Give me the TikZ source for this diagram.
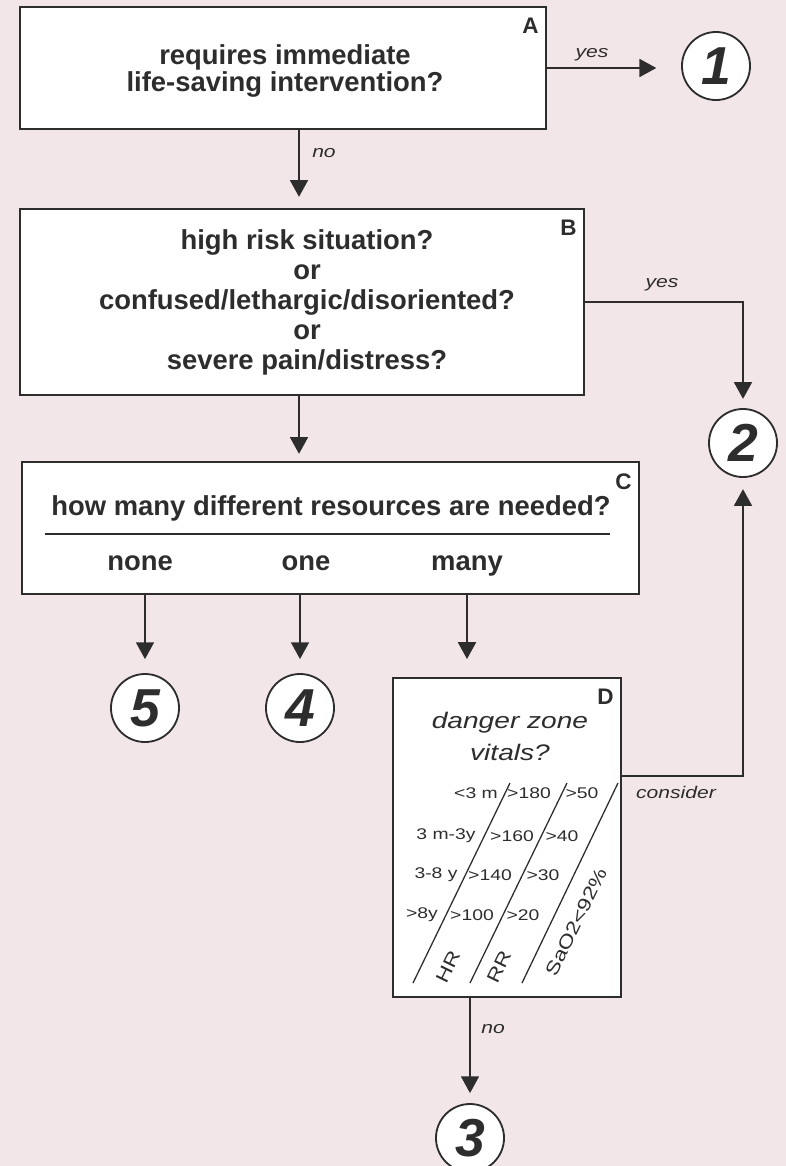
\documentclass[tikz,border=0pt]{standalone}
\usepackage{fontspec}
\setmainfont{Liberation Sans}
\newfontfamily\widefont{Liberation Sans}[FakeStretch=1.25]
\usetikzlibrary{arrows.meta,calc}
\definecolor{bgpink}{RGB}{243,230,233}
\definecolor{ink}{RGB}{45,45,45}

\begin{document}
\begin{tikzpicture}[x=0.025cm, y=-0.025cm,
      box/.style     = {draw=ink, line width=1.3pt, fill=white, inner sep=0pt},
      question/.style= {text=ink, align=center, inner sep=0pt,
                        font=\bfseries\fontsize{19.5}{21.3}\selectfont},
      tag/.style     = {text=ink, anchor=north east, inner sep=0pt,
                        xshift=-0.2cm, yshift=-0.3cm,
                        font=\bfseries\fontsize{16}{16}\selectfont},
      outcome/.style = {circle, draw=ink, line width=1.3pt, fill=white,
                        minimum size=1.7cm, inner sep=0pt, text=ink,
                        font=\bfseries\itshape\fontsize{38}{38}\selectfont},
      flow/.style    = {draw=ink, line width=1.3pt,
                        -{Triangle[width=0.45cm,length=0.42cm]}, shorten >=0.3cm},
      answer/.style  = {text=ink, inner sep=0pt,
                        font=\widefont\itshape\fontsize{12}{12}\selectfont},
      vital/.style   = {text=ink, inner sep=0pt,
                        font=\widefont\fontsize{11}{11}\selectfont},
      axis/.style    = {text=ink, inner sep=0pt, rotate=64,
                        font=\widefont\fontsize{13}{13}\selectfont},
      slant/.style   = {draw=ink, line width=0.9pt}
]
   \useasboundingbox[fill=bgpink] (0,0) rectangle (786,1166);
   \coordinate (spine) at (299,0);

   % box A
   \node[box, minimum width=13.15cm, minimum height=3.05cm] (A) at (283,68) {};
   \node[tag] at (A.north east) {A};
   \node[question, font=\bfseries\fontsize{19.5}{19.6}\selectfont] (Aq) at (285,71)
      {requires immediate\\life-saving intervention?};
   \node[outcome] (o1) at (716,66) {1};
   \draw[flow, shorten >=0.62cm] (A.east) -- (A.east -| o1.west);
   \node[answer] at (592,55) {yes};

   % box B
   \node[box, minimum width=14.1cm, minimum height=4.65cm] (B) at (302,302) {};
   \node[tag] at (B.north east) {B};
   \node[question] (Bq) at (307,302)
      {high risk situation?\\or\\confused/lethargic/disoriented?\\or\\severe pain/distress?};
   \draw[flow, shorten >=0.28cm] (A.south -| spine) -- (B.north -| spine);
   \node[answer] at (324,153) {no};

   \node[outcome] (o2) at (743,443) {2};
   \draw[flow, shorten >=0.23cm] (B.east) -| (o2);
   \node[answer] at (662,285) {yes};

   % box C
   \node[box, minimum width=15.425cm, minimum height=3.3cm] (C) at (330.5,528) {};
   \node[tag] at (C.north east) {C};
   \node[question] (Cq) at (331,508) {how many different resources are needed?};
   \draw[draw=ink, line width=1.3pt] (45,534) -- (610,534);
   \node[question, anchor=base] (none) at (140,570) {none};
   \node[question, anchor=base] (one)  at (306,570) {one};
   \node[question, anchor=base] (many) at (467,570) {many};
   \draw[flow, shorten >=0.18cm] (B.south -| spine) -- (C.north -| spine);

   \node[outcome] (o5) at (145,708) {5};
   \node[outcome] (o4) at (300,708) {4};
   \draw[flow, shorten >=0.35cm] (o5 |- C.south) -- (o5);
   \draw[flow, shorten >=0.35cm] (o4 |- C.south) -- (o4);

   % box D
   \node[box, minimum width=5.7cm, minimum height=7.975cm] (D) at (507,837.5) {};
   \node[tag] at (D.north east) {D};
   \draw[flow, shorten >=0.45cm] (many |- C.south) -- (many |- D.north);
   \node[question, font=\widefont\itshape\fontsize{16}{22.8}\selectfont] (Dq) at (510,736)
      {danger zone\\vitals?};

   % vital signs table
   \draw[slant] (510,783) -- (413,983);
   \draw[slant] (567,783) -- (470,983);
   \draw[slant] (618,783) -- (522,983);
   \node[vital] at (476,793) {<3 m};
   \node[vital] at (529,793) {>180};
   \node[vital] at (582,793) {>50};
   \node[vital] at (446,836) {3 m-3y};
   \node[vital] at (512,836) {>160};
   \node[vital] at (562,836) {>40};
   \node[vital] at (436,875) {3-8 y};
   \node[vital] at (490,875) {>140};
   \node[vital] at (543,875) {>30};
   \node[vital] at (422,915) {>8y};
   \node[vital] at (472,915) {>100};
   \node[vital] at (523,915) {>20};
   \node[axis] at (448,967) {HR};
   \node[axis] at (499,967) {RR};
   \node[axis] at (576,922) {SaO2<92\%};

   % consider / no
   \coordinate (consider) at (621,776);
   \draw[flow, shorten >=0.28cm] (consider) -| (o2);
   \node[answer] at (676,792) {consider};

   \node[outcome] (o3) at (470,1138) {3};
   \draw[flow, shorten >=0.25cm] (o3 |- D.south) -- (o3);
   \node[answer] at (493,1029) {no};
\end{tikzpicture}
\end{document}
